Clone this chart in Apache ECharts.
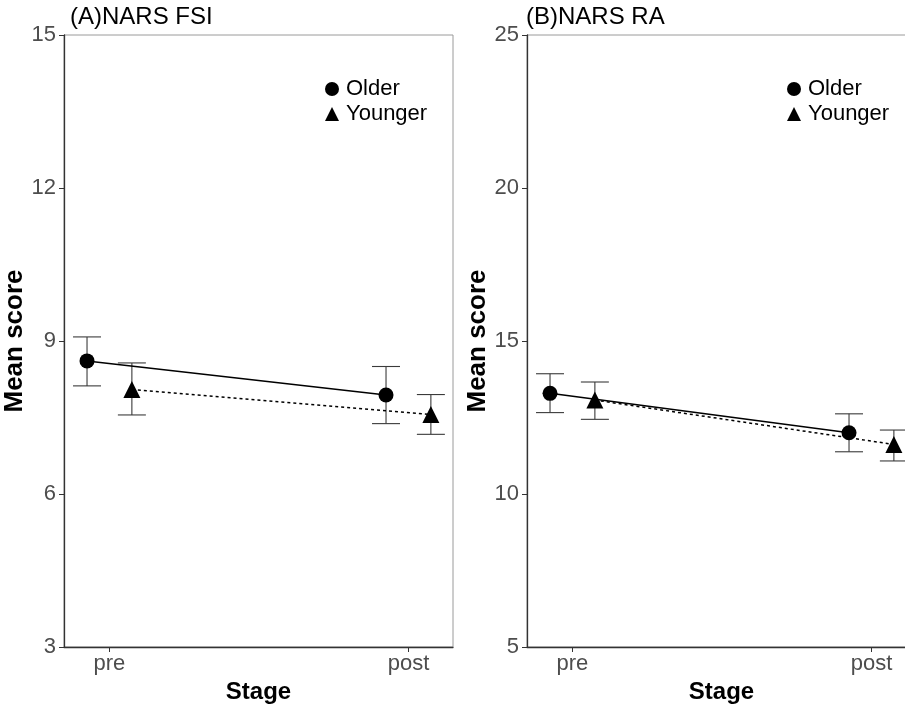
<!DOCTYPE html>
<html>
<head>
<meta charset="utf-8">
<script src="https://cdn.jsdelivr.net/npm/echarts@6/dist/echarts.min.js"></script>
<style>
html,body{margin:0;padding:0;background:#fff;}
#chart{width:905px;height:706px;}
</style>
</head>
<body>
<div id="chart"></div>
<script>
// ---- data ----
const stages = ['pre', 'post'];
const groups = ['Older', 'Younger'];

const fsiOlderMean = [8.61, 7.94];
const fsiOlderLow = [8.12, 7.38];
const fsiOlderHigh = [9.08, 8.50];
const fsiYoungerMean = [8.05, 7.56];
const fsiYoungerLow = [7.55, 7.17];
const fsiYoungerHigh = [8.57, 7.95];

const raOlderMean = [13.29, 12.00];
const raOlderLow = [12.66, 11.38];
const raOlderHigh = [13.93, 12.62];
const raYoungerMean = [13.07, 11.62];
const raYoungerLow = [12.44, 11.08];
const raYoungerHigh = [13.66, 12.09];

const fsiTicks = [3, 6, 9, 12, 15];
const raTicks = [5, 10, 15, 20, 25];

// ---- helpers ----
const DODGE = 0.075;
function pts(mean, shift) {
  return mean.map((v, i) => [i + 1 + shift, v]);
}
function errs(low, high, shift) {
  return low.map((v, i) => [i + 1 + shift, v, high[i]]);
}
function errRender(params, api) {
  const x = api.value(0);
  const lo = api.coord([x, api.value(1)]);
  const hi = api.coord([x, api.value(2)]);
  const hw = 14;
  const st = { stroke: '#3a3a3a', lineWidth: 1.1 };
  return {
    type: 'group',
    children: [
      { type: 'line', shape: { x1: lo[0], y1: lo[1], x2: hi[0], y2: hi[1] }, style: st },
      { type: 'line', shape: { x1: lo[0] - hw, y1: lo[1], x2: lo[0] + hw, y2: lo[1] }, style: st },
      { type: 'line', shape: { x1: hi[0] - hw, y1: hi[1], x2: hi[0] + hw, y2: hi[1] }, style: st }
    ]
  };
}

const FONT = '"Liberation Sans", Arial, Helvetica, sans-serif';

function xAxis(gi) {
  return {
    type: 'value', gridIndex: gi, min: 0.848, max: 2.149,
    name: 'Stage', nameLocation: 'middle', nameGap: 29,
    nameTextStyle: { fontFamily: FONT, fontSize: 24, fontWeight: 'bold', color: '#000' },
    splitLine: { show: false },
    axisLine: { show: true, onZero: false, lineStyle: { color: '#333', width: 1.3 } },
    axisTick: { show: true, length: 5, customValues: [1, 2], lineStyle: { color: '#333' } },
    axisLabel: {
      customValues: [1, 2], margin: 6,
      formatter: v => stages[Math.round(v) - 1] || '',
      fontFamily: FONT, fontSize: 22, color: '#4d4d4d'
    }
  };
}
function yAxis(gi, ticks) {
  return {
    type: 'value', gridIndex: gi, min: ticks[0], max: ticks[ticks.length - 1],
    interval: ticks[1] - ticks[0],
    name: 'Mean score', nameLocation: 'middle', nameGap: 31,
    nameTextStyle: { fontFamily: FONT, fontSize: 26, fontWeight: 'bold', color: '#000' },
    splitLine: { show: false },
    axisLine: { show: true, onZero: false, lineStyle: { color: '#333', width: 1.3 } },
    axisTick: { show: true, length: 5, lineStyle: { color: '#333' } },
    axisLabel: { margin: 8, fontFamily: FONT, fontSize: 22, color: '#4d4d4d' }
  };
}

function panelSeries(gi, oMean, oLow, oHigh, yMean, yLow, yHigh) {
  return [
    {
      type: 'custom', xAxisIndex: gi, yAxisIndex: gi, renderItem: errRender,
      data: errs(oLow, oHigh, -DODGE), z: 2, silent: true
    },
    {
      type: 'custom', xAxisIndex: gi, yAxisIndex: gi, renderItem: errRender,
      data: errs(yLow, yHigh, DODGE), z: 2, silent: true
    },
    {
      name: groups[0], type: 'line', xAxisIndex: gi, yAxisIndex: gi,
      data: pts(oMean, -DODGE), symbol: 'circle', symbolSize: 15,
      itemStyle: { color: '#000' }, lineStyle: { color: '#000', width: 1.5 }, z: 3
    },
    {
      name: groups[1], type: 'line', xAxisIndex: gi, yAxisIndex: gi,
      data: pts(yMean, DODGE), symbol: 'triangle', symbolSize: 17,
      itemStyle: { color: '#000' }, lineStyle: { color: '#000', width: 1.5, type: [3, 3] }, z: 3
    }
  ];
}

function legend(left) {
  return {
    orient: 'vertical', left: left, top: 78, itemGap: 3, padding: 0,
    itemWidth: 14, itemHeight: 14,
    data: [{ name: 'Older', icon: 'circle' }, { name: 'Younger', icon: 'triangle' }],
    textStyle: { fontFamily: FONT, fontSize: 22, color: '#000', padding: [0, 0, 0, 2] },
    selectedMode: false
  };
}

const chart = echarts.init(document.getElementById('chart'), null, { renderer: 'canvas' });
chart.setOption({
  backgroundColor: '#fff',
  animation: false,
  title: [
    { text: '(A)NARS FSI', left: 70, top: 5, padding: 0, textStyle: { fontFamily: FONT, fontSize: 24, fontWeight: 'normal', color: '#000' } },
    { text: '(B)NARS RA', left: 526, top: 5, padding: 0, textStyle: { fontFamily: FONT, fontSize: 24, fontWeight: 'normal', color: '#000' } }
  ],
  legend: [legend(325), legend(787)],
  grid: [
    { left: 64, top: 35, width: 389, height: 612, show: true, borderColor: '#9a9a9a', borderWidth: 1, backgroundColor: '#fff', outerBoundsMode: 'none', containLabel: false },
    { left: 527, top: 35, width: 389, height: 612, show: true, borderColor: '#9a9a9a', borderWidth: 1, backgroundColor: '#fff', outerBoundsMode: 'none', containLabel: false }
  ],
  xAxis: [xAxis(0), xAxis(1)],
  yAxis: [yAxis(0, fsiTicks), yAxis(1, raTicks)],
  series: [
    ...panelSeries(0, fsiOlderMean, fsiOlderLow, fsiOlderHigh, fsiYoungerMean, fsiYoungerLow, fsiYoungerHigh),
    ...panelSeries(1, raOlderMean, raOlderLow, raOlderHigh, raYoungerMean, raYoungerLow, raYoungerHigh)
  ]
});
</script>
</body>
</html>
